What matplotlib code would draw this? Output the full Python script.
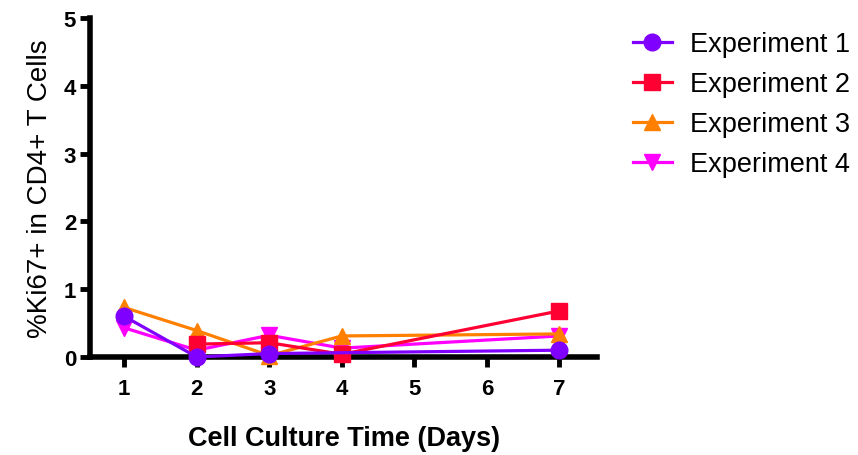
import matplotlib
matplotlib.use("Agg")
import matplotlib.pyplot as plt
import numpy as np

plt.rcParams['font.family'] = ['Liberation Sans', 'DejaVu Sans']

days1 = [1, 2, 3, 7]
exp1 = [0.60, 0.00, 0.05, 0.10]
days2 = [2, 3, 4, 7]
exp2 = [0.19, 0.21, 0.04, 0.68]
days3 = [1, 2, 3, 4, 7]
exp3 = [0.73, 0.39, 0.02, 0.31, 0.34]
days4 = [1, 2, 3, 4, 7]
exp4 = [0.43, 0.10, 0.32, 0.13, 0.31]
labels = ["Experiment 1", "Experiment 2", "Experiment 3", "Experiment 4"]
colors = ["#8000FF", "#FF0033", "#FF8000", "#FF00FF"]
markers = ["o", "s", "^", "v"]
xticks = [1, 2, 3, 4, 5, 6, 7]
yticks = [0, 1, 2, 3, 4, 5]

fig = plt.figure(figsize=(8.58, 4.56), dpi=100)
ax = fig.add_axes([0.105, 0.215, 0.591, 0.743])

series = [(days1, exp1), (days2, exp2), (days3, exp3), (days4, exp4)]
for i, ((x, y), lab, c, m) in enumerate(zip(series, labels, colors, markers)):
    ax.plot(x, y, color=c, marker=m, markersize=12, linewidth=2.3, label=lab,
            clip_on=False, zorder=10 - i)

ax.set_xlim(0.53, 7.52)
ax.set_ylim(0, 5)
ax.set_xticks(xticks)
ax.set_yticks(yticks)
for s in ['top', 'right']:
    ax.spines[s].set_visible(False)
for s in ['left', 'bottom']:
    ax.spines[s].set_linewidth(4)
ax.tick_params(width=3.5, length=7, labelsize=16)
ax.tick_params(axis='x', pad=8)
ax.tick_params(axis='y', pad=3)
for t in ax.get_xticklabels() + ax.get_yticklabels():
    t.set_fontweight('bold')
ax.set_xlabel("Cell Culture Time (Days)", fontsize=19.5, fontweight='bold', labelpad=19)
ax.set_ylabel("%Ki67+ in CD4+ T Cells", fontsize=20, labelpad=8)

leg = ax.legend(loc='upper left', bbox_to_anchor=(1.049, 0.994), borderaxespad=0,
                frameon=False, fontsize=19.5,
                handlelength=1.45, labelspacing=0.52, handletextpad=0.67)

fig.savefig("out.png", dpi=100)
